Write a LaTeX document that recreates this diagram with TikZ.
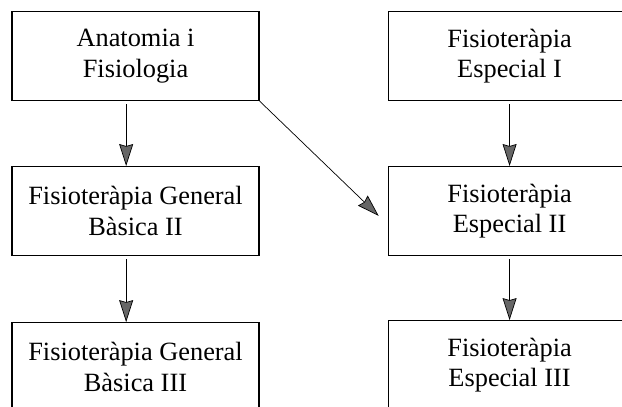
\documentclass[tikz,border=0pt]{standalone}
\usepackage{fontspec}
\setmainfont{Liberation Serif}
\usetikzlibrary{arrows.meta}
\usetikzlibrary{positioning}

\begin{document}
\begin{tikzpicture}[x=0.03cm,y=-0.03cm,node distance=1.95cm,
      subject node/.style={draw,rectangle,line width=0.9pt,align=center,
        minimum height=2.67cm,inner sep=0pt,
        font=\fontsize{22.5}{26}\selectfont},
      left node/.style={subject node,minimum width=7.41cm},
      right node/.style={subject node,minimum width=7.29cm},
      prereq/.style={line width=0.6pt,shorten <=0.1cm,
        -{Stealth[length=0.66cm,width=0.42cm,inset=0.06cm,fill=black!60]}}]

  \useasboundingbox (0,0) rectangle (622,406);
  \clip (0,0) rectangle (622,406);

  \node[left node] (AF) at (135.5,56) {Anatomia i\\Fisiologia};
  \node[left node] (FGB2) [below=of AF] {Fisioteràpia General\\Bàsica II};
  \node[left node] (FGB3) [below=1.98cm of FGB2] {Fisioteràpia General\\Bàsica III};

  \node[right node] (FE1) [right=3.84cm of AF] {Fisioteràpia\\Especial I};
  \node[right node] (FE2) [below=of FE1] {Fisioteràpia\\Especial II};
  \node[right node] (FE3) [below=1.92cm of FE2] {Fisioteràpia\\Especial III};

  % left column
  \draw[prereq] ([xshift=-0.28cm]AF.south) -- ([xshift=-0.28cm]FGB2.north);
  \draw[prereq] ([xshift=-0.28cm]FGB2.south) -- ([xshift=-0.28cm]FGB3.north);
  % right column
  \draw[prereq] (FE1) -- (FE2);
  \draw[prereq] (FE2) -- (FE3);
  \draw[prereq,shorten <=0pt,shorten >=0.37cm] (AF.south east) -- ([yshift=-0.4cm]FE2.west);
\end{tikzpicture}
\end{document}
